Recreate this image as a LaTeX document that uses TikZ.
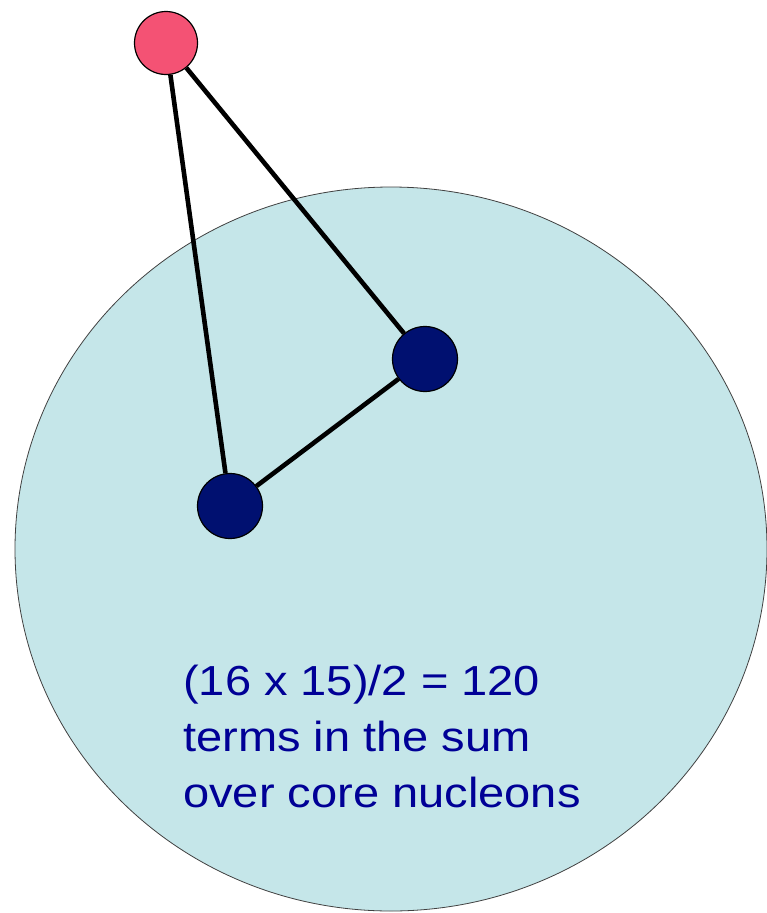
\documentclass[tikz,border=0pt]{standalone}
\usepackage{fontspec}
\setmainfont{Liberation Sans}
\usepackage{tikz}
\usetikzlibrary{shapes.geometric}
\definecolor{corefill}{RGB}{197,230,233}
\definecolor{valpink}{RGB}{244,82,116}
\definecolor{nucnavy}{RGB}{0,16,112}
\definecolor{txtblue}{RGB}{0,0,150}

\begin{document}
\begin{tikzpicture}[x=1pt,y=-1pt,
  nuc/.style={circle,draw,line width=1.2pt,inner sep=0,minimum size=65pt}]
\useasboundingbox (0,0) rectangle (767,913);
\node[ellipse,draw=black!75,line width=0.8pt,fill=corefill,inner sep=0,minimum width=752pt,minimum height=724pt] (core) at (391,549) {};
\node[nuc,fill=valpink,minimum size=63pt] (v) at (166,43) {};
\node[nuc,fill=nucnavy] (n1) at (425,359) {};
\node[nuc,fill=nucnavy] (n2) at (230,506) {};
\draw[line width=4.6pt] (v) -- (n2);
\draw[line width=4.6pt] (v) -- (n1);
\draw[line width=4.6pt] (n1) -- (n2);
\node[anchor=base west,align=left,inner sep=0,xscale=1.12,text=txtblue,font=\fontsize{42}{56}\selectfont] (txt) at (183,807) {(16 x 15)/2 = 120\\terms in the sum\\over core nucleons};
\end{tikzpicture}
\end{document}
